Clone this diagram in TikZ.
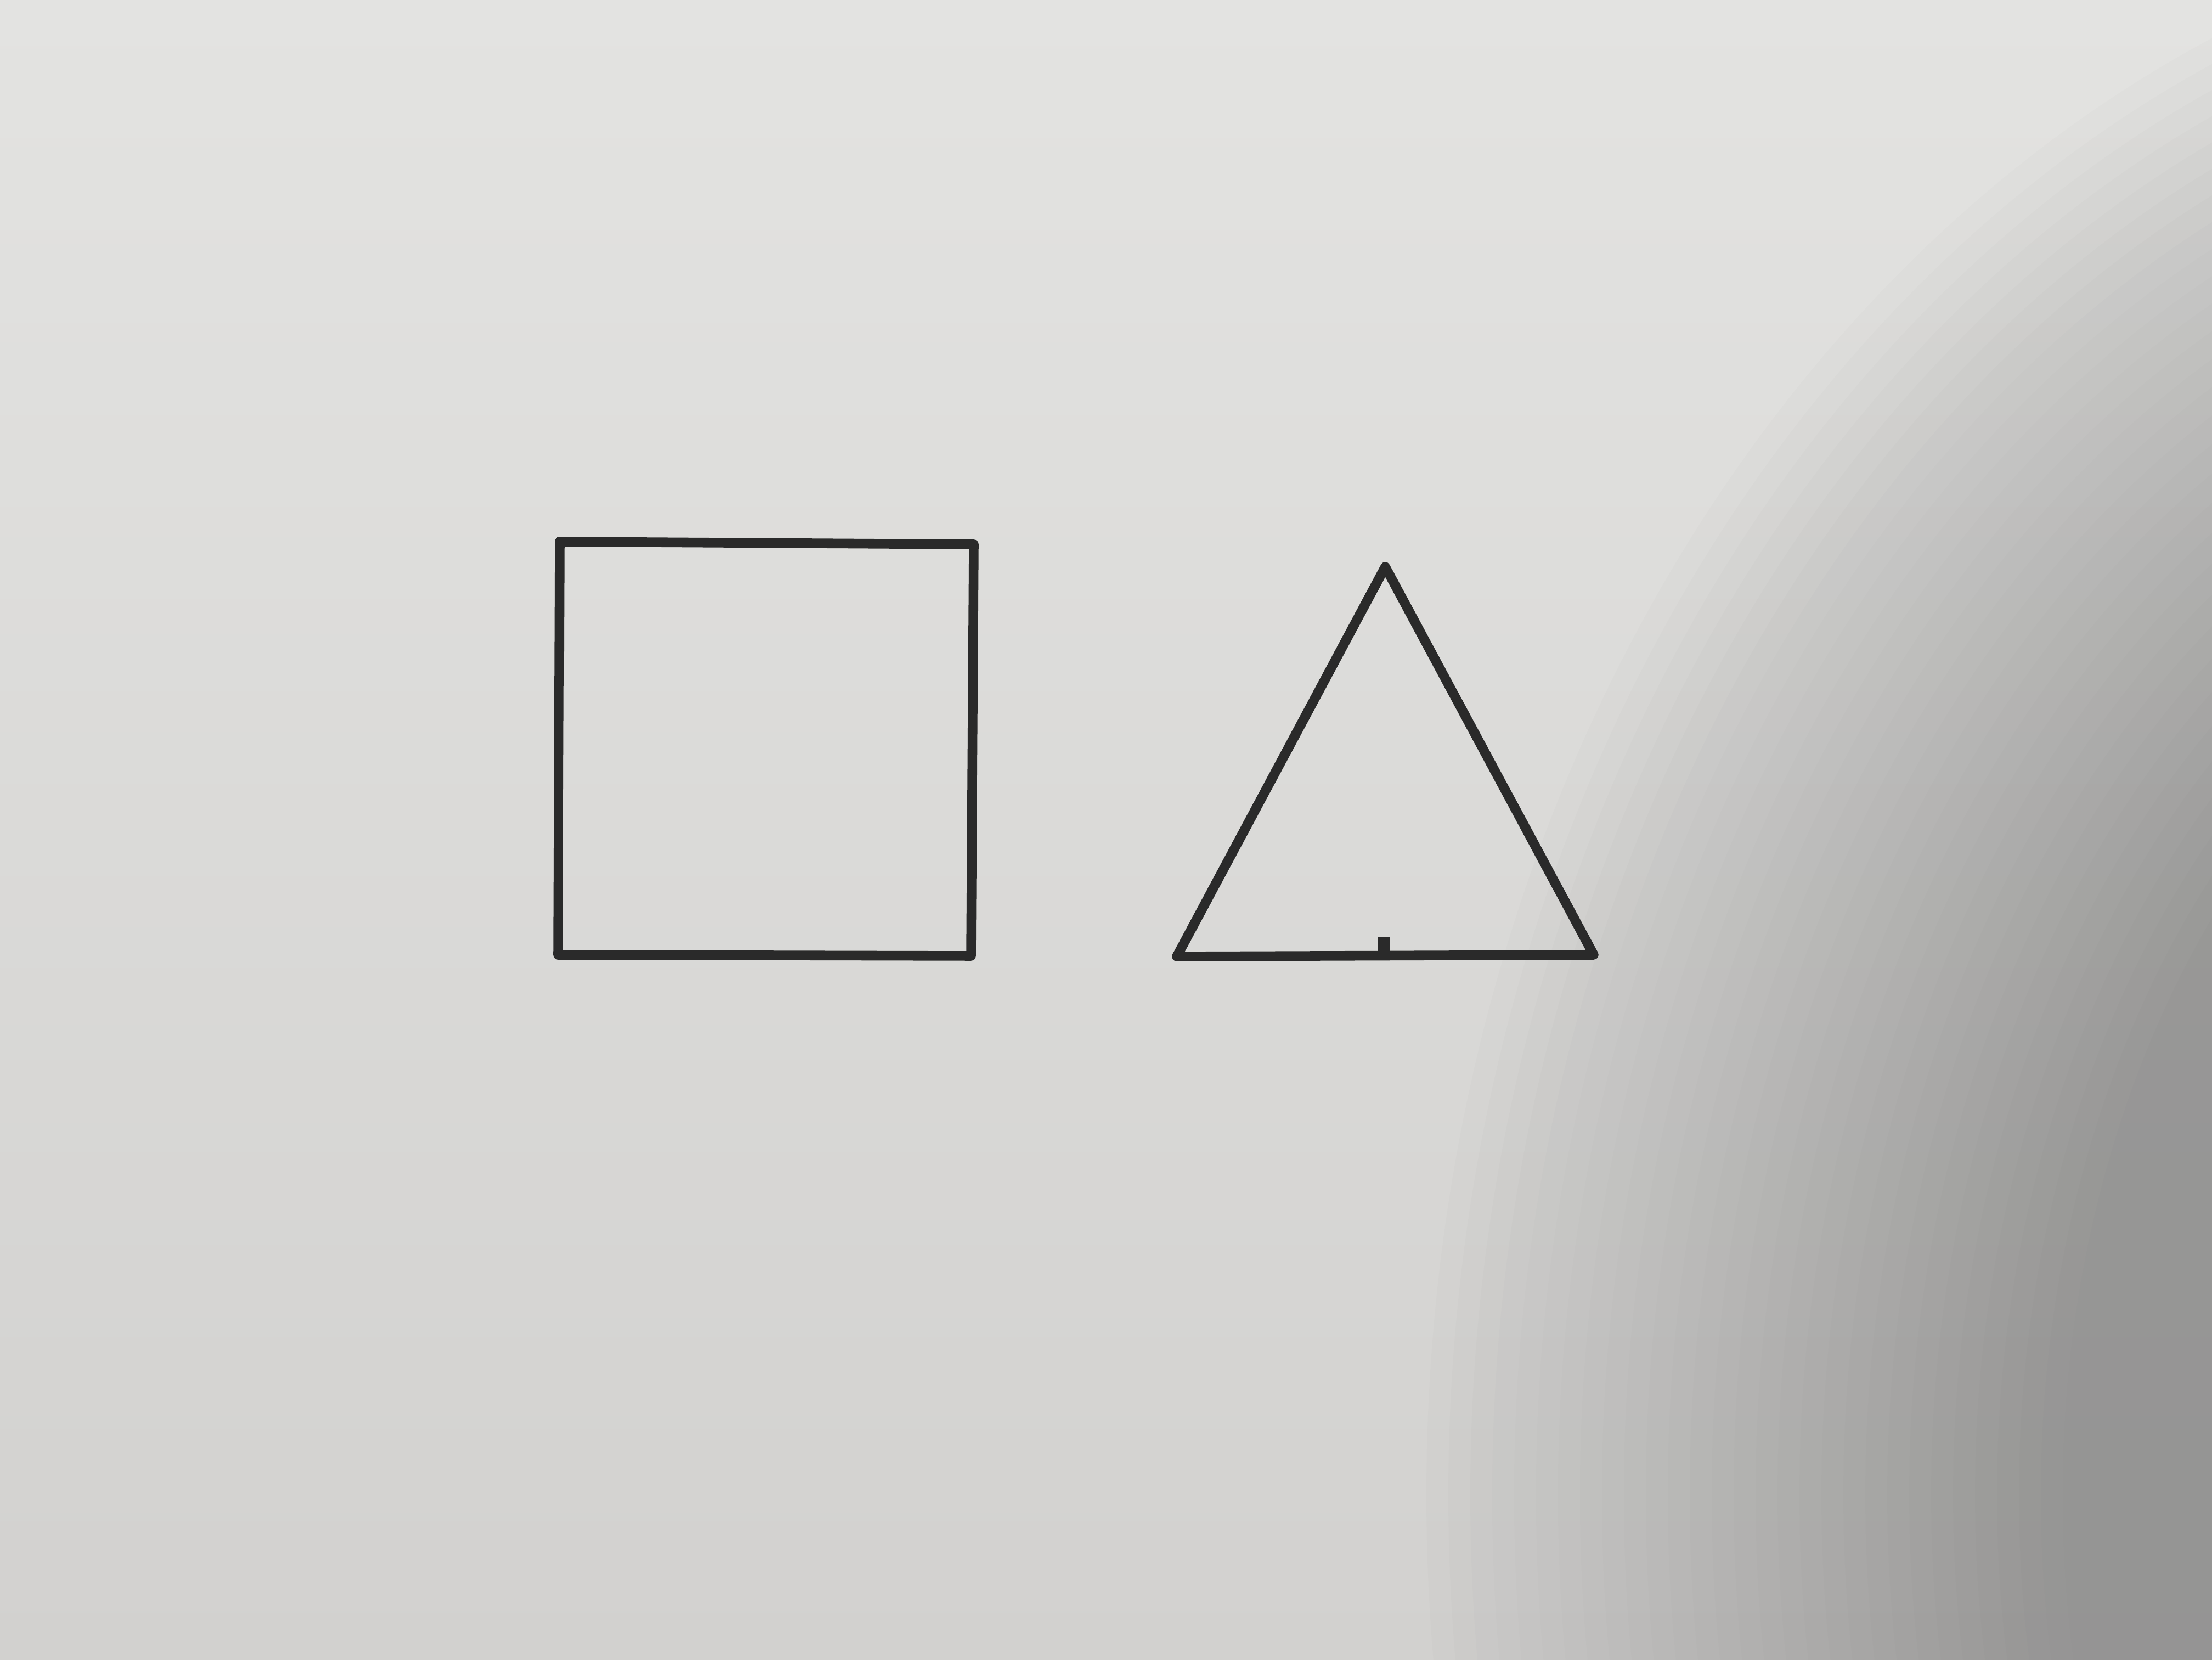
\documentclass[tikz,border=0pt]{standalone}
\usepackage{tikz}

\definecolor{paperTop}{RGB}{227,227,225}
\definecolor{paperBot}{RGB}{210,209,207}
\definecolor{shadowgray}{RGB}{100,100,100}
\definecolor{ink}{RGB}{42,42,42}

\tikzset{
  pen/.style={draw=ink, line width=5pt, line join=round, line cap=round},
  shadowlayer/.style={fill=shadowgray, fill opacity=0.019},
}

\begin{document}
\begin{tikzpicture}

% Background (sheet of paper)
\useasboundingbox (0,0) rectangle (40.32,30.24);
\shade[top color=paperTop, bottom color=paperBot] (0,0) rectangle (40.32,30.24);

% soft shadow on the right part of the sheet
\begin{scope}
  \clip (0,0) rectangle (40.32,30.24);
  \foreach \i in {0,...,29} {
    \pgfmathsetmacro\ra{24-0.4*\i}
    \pgfmathsetmacro\rb{29-0.42*\i}
    \fill[shadowlayer] (50,3) ellipse ({\ra} and {\rb});
  }
\end{scope}

% === SQUARE ===
\coordinate (sqTL) at (10.20,20.37);
\coordinate (sqTR) at (17.75,20.32);
\coordinate (sqBR) at (17.70,12.82);
\coordinate (sqBL) at (10.17,12.84);
\draw[pen] (sqTL) -- (sqTR) -- (sqBR) -- (sqBL) -- cycle;

% === TRIANGLE ===
\coordinate (trTop) at (25.25,19.91);
\coordinate (trL) at (21.45,12.81);
\coordinate (trR) at (29.05,12.84);
\draw[pen] (trTop) -- (trR) -- (trL) -- cycle;

% midpoint tick on the base
\coordinate (trMid) at (25.22,12.82);
\coordinate (tickTop) at (25.22,13.16);
\draw[pen, line width=6pt, line cap=butt] (trMid) -- (tickTop);

\end{tikzpicture}
\end{document}
